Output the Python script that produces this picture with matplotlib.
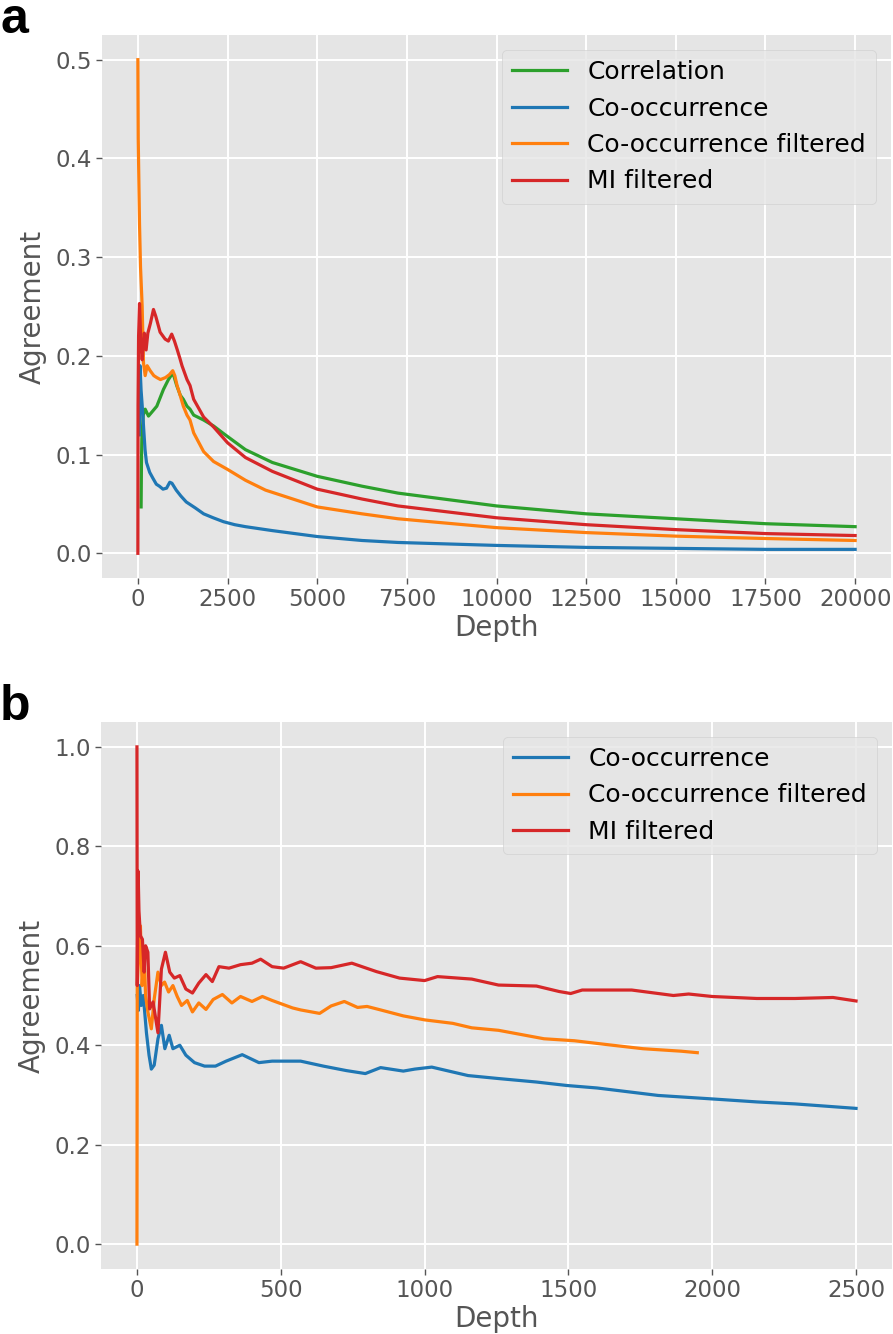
import matplotlib
matplotlib.use("Agg")
import matplotlib.pyplot as plt

plt.style.use("ggplot")

# ---- panel a: agreement vs depth (0 - 20000) ----
corr_depth = [90, 100, 111, 150, 204, 296, 389, 528, 713, 852, 944, 1000, 1083, 1185, 1268, 1370, 1454,
              1556, 1834, 2111, 2400, 3000, 3750, 5000, 6250, 7250, 10000, 12500, 15000, 17500, 20000]
corr_vals = [0.047, 0.09, 0.116, 0.14, 0.146, 0.139, 0.143, 0.149, 0.166, 0.176, 0.181, 0.180, 0.170, 0.160,
             0.156, 0.149, 0.146, 0.140, 0.135, 0.129, 0.121, 0.105, 0.092, 0.078, 0.068, 0.061,
             0.048, 0.040, 0.035, 0.030, 0.027]

co_depth = [40, 60, 90, 120, 150, 200, 240, 330, 420, 515, 600, 700, 800, 890, 950, 1070, 1200, 1350,
            1600, 1834, 2100, 2389, 2700, 3000, 3750, 5000, 6250, 7250, 10000, 12500, 15000, 17500, 20000]
co_vals = [0.12, 0.19, 0.165, 0.15, 0.133, 0.105, 0.092, 0.082, 0.076, 0.070, 0.068, 0.065, 0.066, 0.072,
           0.071, 0.064, 0.058, 0.052, 0.046, 0.040, 0.036, 0.032, 0.029, 0.027, 0.023, 0.017, 0.013,
           0.011, 0.008, 0.006, 0.005, 0.004, 0.004]

cof_depth = [0, 10, 28, 46, 74, 120, 157, 204, 260, 343, 444, 528, 630, 770, 880, 972, 1030, 1093, 1180,
             1268, 1370, 1454, 1556, 1834, 2111, 2500, 3000, 3560, 5000, 6250, 7250, 10000, 12500,
             15000, 17500, 20000]
cof_vals = [0.5, 0.42, 0.377, 0.334, 0.29, 0.25, 0.193, 0.18, 0.19, 0.185, 0.18, 0.178, 0.176, 0.178,
            0.181, 0.185, 0.180, 0.170, 0.160, 0.149, 0.140, 0.135, 0.122, 0.103, 0.093, 0.085, 0.074,
            0.064, 0.047, 0.040, 0.035, 0.026, 0.021, 0.0174, 0.015, 0.013]

mi_depth = [0, 5, 20, 46, 80, 120, 180, 230, 278, 350, 435, 500, 620, 760, 850, 944, 1020, 1100, 1176,
            1231, 1370, 1454, 1556, 1834, 2111, 2500, 3000, 3750, 5000, 6250, 7250, 10000, 12500,
            15000, 17500, 20000]
mi_vals = [0.0, 0.15, 0.22, 0.253, 0.216, 0.196, 0.223, 0.206, 0.223, 0.233, 0.247, 0.24, 0.224, 0.217,
           0.215, 0.222, 0.215, 0.206, 0.197, 0.190, 0.176, 0.170, 0.156, 0.138, 0.128, 0.112, 0.097,
           0.083, 0.065, 0.055, 0.048, 0.036, 0.029, 0.024, 0.020, 0.018]

# ---- panel b: agreement vs depth (0 - 2500) ----
b_co_depth = [1, 5, 9, 15, 22, 33, 42, 50, 60, 73, 85, 97, 112, 125, 149, 170, 200, 235, 273, 310, 366,
              424, 470, 530, 569, 648, 728, 794, 847, 926, 966, 1025, 1151, 1257, 1389, 1495, 1600,
              1812, 2000, 2155, 2288, 2500]
b_co_vals = [0.5, 0.47, 0.52, 0.48, 0.50, 0.425, 0.38, 0.352, 0.36, 0.413, 0.44, 0.393, 0.42, 0.393,
             0.40, 0.38, 0.365, 0.358, 0.358, 0.368, 0.381, 0.365, 0.368, 0.368, 0.368, 0.358, 0.349,
             0.343, 0.355, 0.348, 0.352, 0.356, 0.339, 0.333, 0.326, 0.319, 0.314, 0.299, 0.292,
             0.286, 0.282, 0.273]

b_cof_depth = [0, 1, 6, 12, 18, 25, 30, 38, 50, 60, 73, 85, 96, 110, 125, 140, 155, 175, 193, 215, 240,
               265, 297, 330, 360, 400, 436, 470, 541, 569, 635, 675, 721, 767, 800, 847, 926, 1000,
               1098, 1164, 1257, 1415, 1521, 1653, 1759, 1892, 1948]
b_cof_vals = [0.0, 0.52, 0.58, 0.64, 0.52, 0.587, 0.5, 0.467, 0.433, 0.493, 0.547, 0.52, 0.527, 0.507,
              0.52, 0.498, 0.48, 0.49, 0.467, 0.485, 0.472, 0.492, 0.502, 0.485, 0.498, 0.488, 0.498,
              0.49, 0.475, 0.471, 0.464, 0.479, 0.488, 0.476, 0.478, 0.471, 0.459, 0.451, 0.444, 0.435,
              0.430, 0.413, 0.409, 0.400, 0.393, 0.388, 0.385]

b_mi_depth = [0, 1, 4, 7, 12, 19, 25, 30, 38, 44, 56, 73, 85, 99, 114, 130, 149, 170, 193, 215, 240,
              262, 285, 320, 360, 400, 430, 470, 510, 569, 622, 675, 747, 833, 913, 1000, 1045, 1164,
              1257, 1389, 1468, 1508, 1548, 1720, 1865, 1918, 2000, 2155, 2288, 2420, 2500]
b_mi_vals = [1.0, 0.52, 0.75, 0.67, 0.62, 0.613, 0.547, 0.6, 0.587, 0.473, 0.487, 0.425, 0.553, 0.587,
             0.547, 0.535, 0.54, 0.513, 0.505, 0.525, 0.542, 0.528, 0.558, 0.555, 0.562, 0.565, 0.573,
             0.558, 0.555, 0.568, 0.555, 0.556, 0.565, 0.548, 0.535, 0.530, 0.538, 0.533, 0.521, 0.519,
             0.508, 0.504, 0.511, 0.511, 0.500, 0.503, 0.498, 0.494, 0.494, 0.496, 0.489]

green, blue, orange, red = "#2ca02c", "#1f77b4", "#ff7f0e", "#d62728"

W, H = 893, 1334
fig = plt.figure(figsize=(W / 100, H / 100), dpi=100)
fig.patch.set_facecolor("white")

ax_a = fig.add_axes([102 / W, 1 - 578 / H, 789 / W, 543 / H])
ax_b = fig.add_axes([101 / W, 1 - 1269 / H, 791 / W, 547 / H])

lw = 2.3
ax_a.plot(corr_depth, corr_vals, color=green, lw=lw, label="Correlation")
ax_a.plot(co_depth, co_vals, color=blue, lw=lw, label="Co-occurrence")
ax_a.plot(cof_depth, cof_vals, color=orange, lw=lw, label="Co-occurrence filtered")
ax_a.plot(mi_depth, mi_vals, color=red, lw=lw, label="MI filtered")
ax_a.set_xlim(-1000, 21000)
ax_a.set_ylim(-0.025, 0.525)
ax_a.set_xticks(range(0, 20001, 2500))
ax_a.set_yticks([0.0, 0.1, 0.2, 0.3, 0.4, 0.5])

ax_b.plot(b_co_depth, b_co_vals, color=blue, lw=lw, label="Co-occurrence")
ax_b.plot(b_cof_depth, b_cof_vals, color=orange, lw=lw, label="Co-occurrence filtered")
ax_b.plot(b_mi_depth, b_mi_vals, color=red, lw=lw, label="MI filtered")
ax_b.set_xlim(-125, 2625)
ax_b.set_ylim(-0.05, 1.05)
ax_b.set_xticks(range(0, 2501, 500))
ax_b.set_yticks([0.0, 0.2, 0.4, 0.6, 0.8, 1.0])

for ax in (ax_a, ax_b):
    ax.set_facecolor("#E5E5E5")
    ax.grid(True, color="white", lw=1.4)
    ax.tick_params(labelsize=16.5, colors="#555555", length=4, width=1)
    ax.set_xlabel("Depth", fontsize=20, color="#555555", labelpad=2)
    ax.set_ylabel("Agreement", fontsize=20, color="#555555", labelpad=6)
    leg = ax.legend(loc="upper right", fontsize=18, labelspacing=0.5,
                    borderaxespad=0.6, handlelength=2.2)
    for t in leg.get_texts():
        t.set_color("black")
    for s in ax.spines.values():
        s.set_visible(False)

fig.text(0, 1 - 33 / H, "a", fontsize=36, fontweight="bold",
         family="Liberation Sans", va="baseline", ha="left")
fig.text(0, 1 - 720 / H, "b", fontsize=36, fontweight="bold",
         family="Liberation Sans", va="baseline", ha="left")

fig.savefig("out.png", dpi=100)
